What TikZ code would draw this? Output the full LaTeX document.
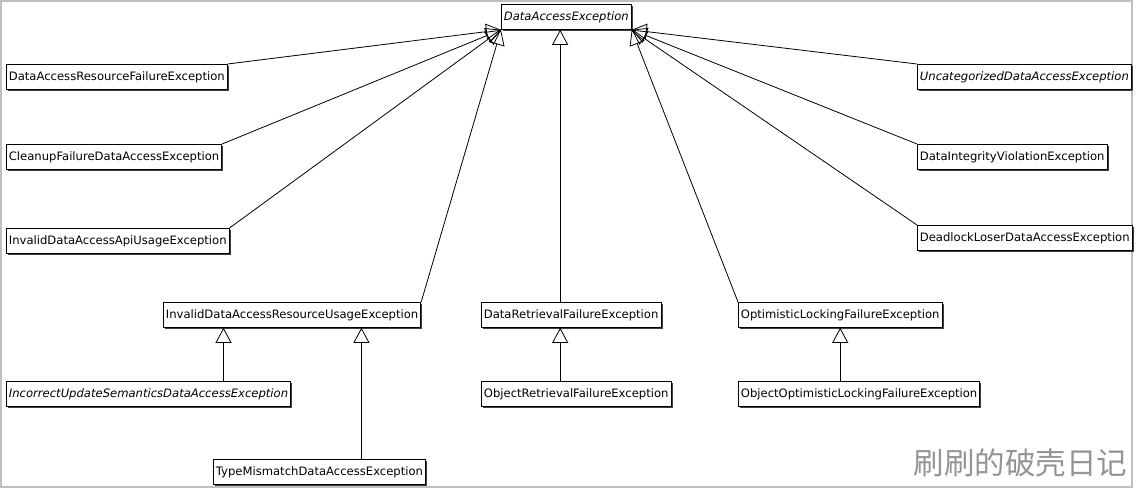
\documentclass[tikz,border=0pt]{standalone}
\usepackage{fontspec}
\setmainfont{DejaVu Sans}
\newfontfamily\cjkfont{Noto Sans CJK SC}
\usetikzlibrary{arrows.meta, positioning, calc, shadows}
\tikzset{
  cls/.style   ={draw, fill=white, line width=0.8pt, anchor=north west, font=\fontsize{11.6}{13}\selectfont,
                 minimum height=25pt, inner xsep=2.5pt, text height=8.6pt, text depth=2.3pt,
                 drop shadow={shadow xshift=1.6pt, shadow yshift=-1.6pt, fill=black!75, opacity=1}},
  abscls/.style={cls, font=\fontsize{11.6}{13}\selectfont\itshape},
  inh/.style   ={-{Triangle[open, length=15pt, width=16pt]}, line width=0.8pt},
  frm/.style   ={draw=black!25, line width=1.5pt},
  wm/.style    ={font=\cjkfont\fontsize{30.5}{32}\selectfont, text=black!42, anchor=south east},
}

\begin{document}
\begin{tikzpicture}[x=1pt, y=-1pt]
  \useasboundingbox (0,0) rectangle (1138,491);
  \draw[frm] (1,1) rectangle (1132,487);
  % root
  \node[abscls] (dae) at (501,4) {DataAccessException};
  % left column
  \node[cls] (darfe)  at (6,64)  {DataAccessResourceFailureException};
  \node[cls] (cfdae)  at (6,144) {CleanupFailureDataAccessException};
  \node[cls] (idaaue) at (6,228) {InvalidDataAccessApiUsageException};
  % middle row
  \node[cls] (idarue) at (163,302) {InvalidDataAccessResourceUsageException};
  \node[cls] (drfe)   at (481,302) {DataRetrievalFailureException};
  \node[cls] (olfe)   at (738,302) {OptimisticLockingFailureException};
  % lower row
  \node[abscls] (iusdae) at (6,381)   {IncorrectUpdateSemanticsDataAccessException};
  \node[cls]    (tmdae)  at (213,459) {TypeMismatchDataAccessException};
  \node[cls]    (orfe)   at (481,381) {ObjectRetrievalFailureException};
  \node[cls]    (oolfe)  at (738,381) {ObjectOptimisticLockingFailureException};
  % right column
  \node[abscls] (ucdae) at (917,64)  {UncategorizedDataAccessException};
  \node[cls]    (divie) at (917,144) {DataIntegrityViolationException};
  \node[cls]    (dldae) at (917,225) {DeadlockLoserDataAccessException};
  % inheritance
  \draw[inh] (darfe.north east)  -- (dae.south west);
  \draw[inh] (cfdae.north east)  -- (dae.south west);
  \draw[inh] (idaaue.north east) -- (dae.south west);
  \draw[inh] (idarue.north east) -- (dae.south west);
  \draw[inh] ([xshift=-11pt]drfe.north) -- ([xshift=-11pt]drfe.north |- dae.south);
  \draw[inh] (olfe.north west)  -- (dae.south east);
  \draw[inh] (ucdae.north west) -- (dae.south east);
  \draw[inh] (divie.north west) -- (dae.south east);
  \draw[inh] (dldae.north west) -- (dae.south east);
  \draw[inh] ([xshift=75pt]iusdae.north) -- ([xshift=75pt]iusdae.north |- idarue.south);
  \draw[inh] ([xshift=42pt]tmdae.north)  -- ([xshift=42pt]tmdae.north |- idarue.south);
  \draw[inh] ([xshift=-16pt]orfe.north)  -- ([xshift=-16pt]orfe.north |- drfe.south);
  \draw[inh] (olfe.south |- oolfe.north) -- (olfe.south);
  % watermark
  \node[wm] (mark) at (1131,481) {刷刷的破壳日记};
\end{tikzpicture}
\end{document}
